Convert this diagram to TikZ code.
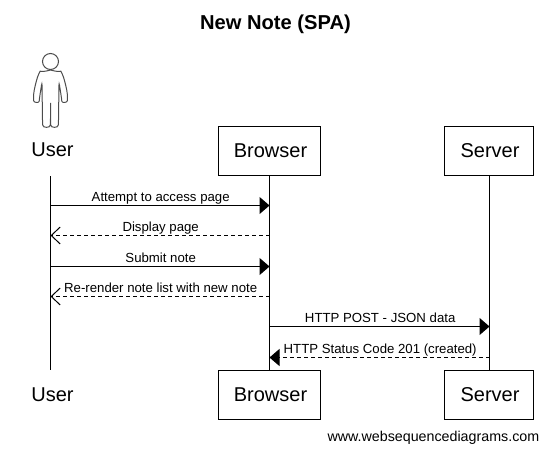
\documentclass[tikz,border=0pt]{standalone}
\usepackage{fontspec}
\setmainfont{Liberation Sans}
\usetikzlibrary{arrows.meta}
\usetikzlibrary{positioning}
\tikzset{
  actorbox/.style={draw, line width=0.75pt, minimum height=37pt, inner sep=0pt, font=\fontsize{15pt}{18pt}\selectfont},
  actorname/.style={inner sep=0pt, font=\fontsize{15pt}{18pt}\selectfont},
  lifeline/.style={line width=0.75pt},
  request/.style={line width=0.75pt, -{Triangle[length=7.5pt,width=12.75pt]}},
  response/.style={line width=0.75pt, dash pattern=on 3pt off 2.25pt, -{Straight Barb[length=6.75pt,width=12.75pt,line width=0.75pt]}},
  reply/.style={line width=0.75pt, dash pattern=on 3pt off 2.25pt, -{Triangle[length=7.5pt,width=12.75pt]}},
  msg/.style={midway, anchor=base, inner sep=0pt, xshift=0.5pt, yshift=3pt, font=\fontsize{9.9pt}{11pt}\selectfont}
}
\begin{document}
\begin{tikzpicture}[x=0.75pt,y=-0.75pt]
    \useasboundingbox (0,0) rectangle (548,453);
    \node[font=\bfseries\fontsize{15.1pt}{18pt}\selectfont] (title) at (275.5,24) {New Note (SPA)};
    % actors
    \node[actorname] (userTop) at (52.5,150) {User};
    \node[actorbox, minimum width=76.5pt, xshift=0pt] (browserTop) at (269.5,151) {\hspace{1.5pt}Browser};
    \node[actorbox, minimum width=66.75pt] (serverTop) at (489,151) {\hspace{1.5pt}Server};
    \node[actorname] (userBot) at (52.5,395) {User};
    \node[actorbox, minimum width=76.5pt] (browserBot) at (269.5,395) {\hspace{1.5pt}Browser};
    \node[actorbox, minimum width=66.75pt] (serverBot) at (489,395) {\hspace{1.5pt}Server};
    % stick figure
    \draw[line width=0.75pt, black!70] (50.5,61.5) circle (8);
    \draw[line width=0.75pt, black!70, rounded corners=2.5pt]
      (50.5,70) .. controls (44,72) and (40,71.5) .. (38.5,74)
      .. controls (36,82) and (34,90) .. (33.5,97) .. controls (33.5,103) and (39,103) .. (39.5,98)
      -- (42,82) -- (42.5,122) .. controls (43,128) and (50,128) .. (50.5,122)
      -- (50.5,101) -- (50.5,122) .. controls (51,128) and (58,128) .. (58.5,122)
      -- (59,82) -- (61.5,98) .. controls (62,103) and (67.5,103) .. (67.5,97)
      .. controls (67,90) and (65,82) .. (62.5,74) .. controls (61,71.5) and (57,72) .. (50.5,70);
    % lifelines
    \coordinate (userStart) at (50.5,176);
    \coordinate (userEnd) at (50.5,370);
    \draw[lifeline] (userStart) -- (userEnd);
    \draw[lifeline] (browserTop) -- (browserBot);
    \draw[lifeline] (serverTop) -- (serverBot);
    % messages
    \foreach \n/\y in {a/205.5,b/235.5,c/266.5,d/296.5,e/326.5,f/357.5} {
      \coordinate (user\n) at (50.5,\y);
      \coordinate (browser\n) at (269.5,\y);
      \coordinate (server\n) at (489.5,\y);
    }
    \draw[request] (usera) -- node[msg] (m1) {Attempt to access page} (browsera);
    \draw[response] (browserb) -- node[msg] (m2) {Display page} (userb);
    \draw[request] (userc) -- node[msg] (m3) {Submit note} (browserc);
    \draw[response] (browserd) -- node[msg] (m4) {Re-render note list with new note} (userd);
    \draw[request] (browsere) -- node[msg] (m5) {HTTP POST - JSON data} (servere);
    \draw[reply] (serverf) -- node[msg] (m6) {HTTP Status Code 201 (created)} (browserf);
    \node[anchor=east, inner sep=0pt, font=\fontsize{10.7pt}{12pt}\selectfont] (footer) at (539.5,438) {www.websequencediagrams.com};
\end{tikzpicture}
\end{document}
